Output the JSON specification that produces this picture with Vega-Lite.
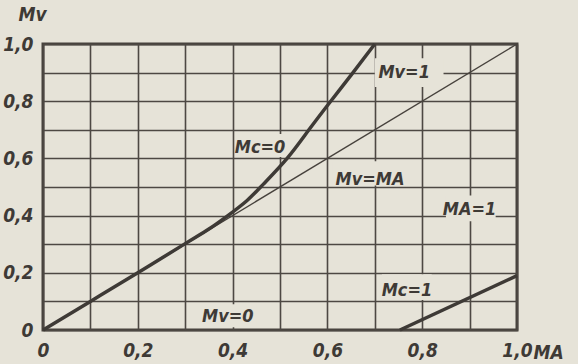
{
  "$schema": "https://vega.github.io/schema/vega-lite/v6.json",
  "autosize": "none",
  "width": 474,
  "height": 286,
  "padding": {"left": 43, "top": 44, "right": 61, "bottom": 34},
  "background": "#e6e3d8",
  "config": {
    "view": {"stroke": "#47423d", "strokeWidth": 3, "fill": "#e6e3d8"},
    "font": "DejaVu Sans Condensed, Liberation Sans Narrow, DejaVu Sans, sans-serif"
  },
  "datasets": {
    "mc0": [
      {"ma": 0.0, "mv": 0.0}, {"ma": 0.1, "mv": 0.1}, {"ma": 0.2, "mv": 0.2},
      {"ma": 0.3, "mv": 0.302}, {"ma": 0.35, "mv": 0.353}, {"ma": 0.39, "mv": 0.4},
      {"ma": 0.43, "mv": 0.452}, {"ma": 0.465, "mv": 0.51}, {"ma": 0.515, "mv": 0.6},
      {"ma": 0.561, "mv": 0.7}, {"ma": 0.607, "mv": 0.8}, {"ma": 0.654, "mv": 0.9},
      {"ma": 0.70, "mv": 1.0}
    ],
    "mc1": [
      {"ma": 0.753, "mv": 0.0}, {"ma": 1.0, "mv": 0.19}
    ],
    "diag": [
      {"ma": 0.0, "mv": 0.0}, {"ma": 1.0, "mv": 1.0}
    ],
    "labels": [
      {"txt": "Mc=0", "x": 0.458, "y": 0.636, "x1": 0.405, "x2": 0.51, "y1": 0.605, "y2": 0.685},
      {"txt": "Mv=1", "x": 0.762, "y": 0.90, "x1": 0.70, "x2": 0.845, "y1": 0.85, "y2": 0.95},
      {"txt": "Mv=MA", "x": 0.69, "y": 0.525, "x1": 0.61, "x2": 0.78, "y1": 0.505, "y2": 0.59},
      {"txt": "MA=1", "x": 0.90, "y": 0.42, "x1": 0.85, "x2": 0.955, "y1": 0.38, "y2": 0.47},
      {"txt": "Mc=1", "x": 0.768, "y": 0.136, "x1": 0.715, "x2": 0.82, "y1": 0.105, "y2": 0.195},
      {"txt": "Mv=0", "x": 0.39, "y": 0.045, "x1": 0.33, "x2": 0.45, "y1": 0.01, "y2": 0.09}
    ]
  },
  "encoding": {
    "x": {
      "type": "quantitative",
      "scale": {"domain": [0, 1], "nice": false, "zero": false},
      "axis": {
        "values": [0, 0.1, 0.2, 0.3, 0.4, 0.5, 0.6, 0.7, 0.8, 0.9, 1.0],
        "labelExpr": "round(datum.value*10) % 2 == 1 ? '' : (datum.value == 0 ? '0' : replace(format(datum.value, '.1f'), '.', ','))",
        "grid": true, "gridColor": "#4d4843", "gridWidth": 1.6, "gridOpacity": 1,
        "domain": false, "ticks": false,
        "labelFontSize": 19, "labelFontStyle": "italic", "labelFontWeight": "bold", "labelColor": "#3e3a36",
        "labelPadding": 11, "labelFlush": false,
        "title": "MA", "titleFontSize": 19, "titleFontStyle": "italic", "titleFontWeight": "bold",
        "titleColor": "#3e3a36", "titleX": 490, "titleY": 22, "titleAlign": "left", "titleBaseline": "middle"
      }
    },
    "y": {
      "type": "quantitative",
      "scale": {"domain": [0, 1], "nice": false, "zero": false},
      "axis": {
        "values": [0, 0.1, 0.2, 0.3, 0.4, 0.5, 0.6, 0.7, 0.8, 0.9, 1.0],
        "labelExpr": "round(datum.value*10) % 2 == 1 ? '' : (datum.value == 0 ? '0' : replace(format(datum.value, '.1f'), '.', ','))",
        "grid": true, "gridColor": "#4d4843", "gridWidth": 1.6, "gridOpacity": 1,
        "domain": false, "ticks": false,
        "labelFontSize": 19, "labelFontStyle": "italic", "labelFontWeight": "bold", "labelColor": "#3e3a36",
        "labelPadding": 10, "labelFlush": false,
        "title": "Mv", "titleFontSize": 19, "titleFontStyle": "italic", "titleFontWeight": "bold",
        "titleColor": "#3e3a36", "titleAngle": 0, "titleX": -25, "titleY": -30, "titleAlign": "left", "titleBaseline": "middle"
      }
    }
  },
  "layer": [
    {
      "data": {"name": "labels"},
      "mark": {"type": "rect", "fill": "#e6e3d8"},
      "encoding": {
        "x": {"field": "x1", "type": "quantitative"},
        "x2": {"field": "x2"},
        "y": {"field": "y1", "type": "quantitative"},
        "y2": {"field": "y2"}
      }
    },
    {
      "data": {"name": "diag"},
      "mark": {"type": "line", "stroke": "#47423d", "strokeWidth": 1.4},
      "encoding": {
        "x": {"field": "ma", "type": "quantitative"},
        "y": {"field": "mv", "type": "quantitative"}
      }
    },
    {
      "data": {"name": "mc0"},
      "mark": {"type": "line", "stroke": "#3e3a36", "strokeWidth": 3.5, "interpolate": "natural"},
      "encoding": {
        "x": {"field": "ma", "type": "quantitative"},
        "y": {"field": "mv", "type": "quantitative"}
      }
    },
    {
      "data": {"name": "mc1"},
      "mark": {"type": "line", "stroke": "#3e3a36", "strokeWidth": 3.5},
      "encoding": {
        "x": {"field": "ma", "type": "quantitative"},
        "y": {"field": "mv", "type": "quantitative"}
      }
    },
    {
      "data": {"name": "labels"},
      "mark": {"type": "text", "fontSize": 18, "fontStyle": "italic", "fontWeight": "bold", "color": "#3e3a36", "align": "center", "baseline": "middle"},
      "encoding": {
        "x": {"field": "x", "type": "quantitative"},
        "y": {"field": "y", "type": "quantitative"},
        "text": {"field": "txt"}
      }
    }
  ]
}
